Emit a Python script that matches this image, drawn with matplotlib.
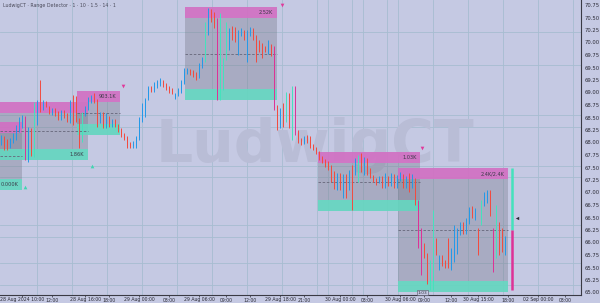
import matplotlib
matplotlib.use("Agg")
import matplotlib.pyplot as plt
from matplotlib.patches import Rectangle
import numpy as np

# OHLC in cents (price * 100), one entry per bar
opens = [
    6801, 6809, 6803, 6793, 6805, 6813, 6829, 6841, 6849, 6789,
    6805, 6775, 6865, 6879, 6869, 6879, 6869, 6861, 6865, 6859,
    6853, 6861, 6855, 6849, 6877, 6865, 6845, 6805, 6857, 6869,
    6885, 6891, 6883, 6845, 6857, 6833, 6849, 6837, 6843, 6833,
    6825, 6815, 6809, 6797, 6793, 6793, 6809, 6845, 6869, 6889,
    6909, 6905, 6913, 6919, 6921, 6915, 6909, 6905, 6889, 6897,
    6901, 6921, 6941, 6945, 6941, 6937, 6933, 6953, 6965, 7025,
    7061, 7055, 7041, 6889, 6909, 6969, 6995, 7029, 7025, 7005,
    7017, 7021, 7009, 7019, 7025, 7011, 7001, 6995, 6989, 6981,
    6993, 6989, 6869, 6835, 6869, 6845, 6895, 6845, 6909, 6819,
    6805, 6799, 6811, 6809, 6793, 6789, 6779, 6769, 6763, 6759,
    6751, 6739, 6715, 6735, 6705, 6733, 6715, 6735, 6739, 6725,
    6775, 6749, 6765, 6745, 6731, 6725, 6723, 6729, 6713, 6729,
    6719, 6733, 6715, 6729, 6733, 6713, 6735, 6721, 6725, 6681,
    6625, 6595, 6575, 6519, 6535, 6605, 6549, 6569, 6561, 6605,
    6549, 6569, 6585, 6621, 6635, 6621, 6641, 6665, 6649, 6621,
    6639, 6679, 6685, 6701, 6625, 6575, 6635, 6621, 6581,
]
highs = [
    6815, 6813, 6807, 6809, 6819, 6835, 6851, 6855, 6853, 6831,
    6829, 6881, 6885, 6925, 6885, 6883, 6873, 6869, 6869, 6863,
    6865, 6865, 6859, 6885, 6895, 6893, 6849, 6861, 6873, 6891,
    6895, 6899, 6887, 6861, 6861, 6859, 6853, 6847, 6847, 6837,
    6829, 6819, 6813, 6801, 6803, 6813, 6851, 6879, 6889, 6913,
    6913, 6921, 6925, 6929, 6925, 6919, 6913, 6909, 6899, 6909,
    6925, 6949, 6949, 6947, 6945, 6941, 6959, 6971, 7041, 7069,
    7067, 7061, 7049, 7059, 6969, 7041, 7029, 7033, 7031, 7025,
    7029, 7025, 7025, 7031, 7029, 7015, 7005, 6999, 6993, 7005,
    6997, 6993, 6875, 6869, 6879, 6901, 6899, 6913, 6913, 6825,
    6809, 6813, 6815, 6813, 6797, 6791, 6783, 6773, 6767, 6763,
    6755, 6743, 6739, 6739, 6737, 6737, 6745, 6755, 6769, 6775,
    6779, 6771, 6769, 6749, 6735, 6729, 6733, 6733, 6739, 6733,
    6739, 6737, 6735, 6741, 6737, 6733, 6739, 6737, 6729, 6685,
    6629, 6599, 6579, 6565, 6665, 6609, 6575, 6575, 6565, 6609,
    6589, 6635, 6629, 6641, 6641, 6649, 6671, 6673, 6669, 6629,
    6685, 6701, 6705, 6705, 6629, 6675, 6641, 6629, 6613,
]
lows = [
    6795, 6785, 6785, 6789, 6799, 6805, 6821, 6829, 6765, 6761,
    6773, 6771, 6835, 6861, 6865, 6871, 6857, 6855, 6853, 6845,
    6845, 6849, 6841, 6839, 6835, 6841, 6789, 6801, 6853, 6865,
    6879, 6879, 6831, 6839, 6829, 6829, 6831, 6831, 6831, 6821,
    6811, 6805, 6789, 6789, 6789, 6789, 6805, 6841, 6851, 6885,
    6901, 6901, 6909, 6913, 6911, 6905, 6899, 6897, 6887, 6893,
    6899, 6917, 6937, 6935, 6931, 6925, 6929, 6949, 6961, 7015,
    7041, 7029, 6885, 6885, 6905, 6965, 6985, 7005, 7001, 6975,
    7013, 7005, 6961, 7013, 7005, 6961, 6981, 6969, 6981, 6977,
    6973, 6865, 6825, 6829, 6831, 6841, 6829, 6805, 6815, 6799,
    6795, 6797, 6799, 6789, 6785, 6777, 6765, 6759, 6751, 6745,
    6721, 6707, 6705, 6705, 6689, 6689, 6705, 6665, 6735, 6721,
    6741, 6735, 6735, 6729, 6721, 6715, 6719, 6709, 6709, 6713,
    6713, 6709, 6709, 6723, 6709, 6709, 6701, 6709, 6675, 6589,
    6535, 6569, 6517, 6505, 6505, 6575, 6545, 6553, 6549, 6549,
    6545, 6561, 6577, 6615, 6617, 6617, 6637, 6649, 6645, 6575,
    6635, 6673, 6679, 6653, 6541, 6569, 6575, 6581, 6575,
]
closes = [
    6809, 6803, 6793, 6805, 6813, 6829, 6841, 6849, 6789, 6805,
    6775, 6865, 6879, 6869, 6879, 6875, 6861, 6865, 6859, 6853,
    6861, 6855, 6849, 6877, 6861, 6845, 6791, 6857, 6869, 6885,
    6891, 6883, 6845, 6857, 6833, 6849, 6837, 6843, 6835, 6825,
    6815, 6809, 6793, 6793, 6797, 6809, 6845, 6869, 6885, 6909,
    6903, 6917, 6921, 6925, 6915, 6909, 6903, 6901, 6897, 6905,
    6921, 6941, 6945, 6939, 6935, 6927, 6953, 6965, 7025, 7061,
    7049, 7035, 6889, 7055, 6961, 7035, 7025, 7013, 7009, 7021,
    7025, 7009, 7019, 7025, 7011, 6975, 6991, 6987, 6985, 6993,
    6979, 6869, 6835, 6861, 6835, 6895, 6845, 6905, 6819, 6805,
    6801, 6809, 6803, 6793, 6789, 6781, 6769, 6763, 6755, 6749,
    6725, 6711, 6735, 6711, 6733, 6693, 6741, 6715, 6761, 6771,
    6749, 6765, 6741, 6735, 6725, 6719, 6729, 6713, 6735, 6719,
    6735, 6715, 6729, 6737, 6713, 6729, 6705, 6729, 6679, 6595,
    6541, 6573, 6521, 6561, 6661, 6579, 6571, 6559, 6555, 6551,
    6585, 6595, 6621, 6633, 6621, 6641, 6665, 6655, 6665, 6579,
    6679, 6695, 6699, 6661, 6549, 6669, 6581, 6589, 6609,
]

# detected ranges (bar span, top/bottom in cents, label)
box_start = [-0.5, -0.5, 25.2, 61.2, 105.5, 132.2]
box_end = [6.8, 28.8, 39.5, 91.8, 139.5, 168.8]
box_top = [6841, 6881, 6903, 7071, 6781, 6749]
box_bottom = [6705, 6765, 6815, 6885, 6663, 6501]
box_labels = ["0.000K", "1.86K", "903.1K", "2.52K", "1.03K", "2.4K/2.4K"]
box_label_side = ["bottom", "bottom", "top", "top", "top", "top"]

sell_bars = [40.5, 93.5, 140.2]
sell_prices = [6913, 7075, 6789]
buy_bars = [7.8, 30.2]
buy_prices = [6711, 6753]

gauge_bar = 170.2
gauge_top, gauge_mid, gauge_bottom = 6749, 6625, 6505
pointer_bar, pointer_price = 171.8, 6649

hgrid_levels = [7021, 6955, 6855, 6831, 6753, 6731, 6635, 6611, 6559, 6515]

xtick_bars = [7, 17, 28, 36, 46, 56, 66, 75, 83, 93,
              101, 113, 122, 133, 141, 150, 159, 169, 179, 188]
xtick_labels = ["28 Aug 2024 10:00", "12:00", "28 Aug 16:00", "18:00", "29 Aug 00:00",
                "03:00", "29 Aug 06:00", "09:00", "12:00", "29 Aug 18:00",
                "21:00", "30 Aug 00:00", "03:00", "30 Aug 06:00", "09:00",
                "12:00", "30 Aug 15:00", "18:00", "02 Sep 00:00", "03:00"]

BG = "#c5c9e3"
GRID = "#a7bdd0"
UP = "#2499e8"
UP_BIG = "#45e2bc"
DOWN = "#f24b3f"
DOWN_BIG = "#dd3296"
PINK = "#d86ec6"
TEAL = "#62dcc2"


def main():
    fig = plt.figure(figsize=(6.0, 3.03), dpi=100, facecolor=BG)
    ax = fig.add_axes([0, 8 / 303, 581 / 600, 295 / 303])
    ax.set_facecolor(BG)
    ax.set_xlim(-0.5, 193.17)
    ax.set_ylim(6495, 7085)

    # grid
    for gx in np.arange(11.83, 130, 35 / 3):
        ax.axvline(gx, color=GRID, lw=0.6, zorder=0)
    for gx in np.arange(108.8, 194, 35 / 3):
        ax.axvline(gx, color=GRID, lw=0.6, zorder=0)
    for gy in hgrid_levels:
        ax.axhline(gy, color=GRID, lw=0.6, zorder=0)

    ax.text(104.5, 6795, "LudwigCT", fontsize=42, fontweight="bold",
            color="#b9bdd6", ha="center", va="center", zorder=0.5)

    # range boxes
    band = 22
    for s, e, t, b, lab, side in zip(box_start, box_end, box_top, box_bottom,
                                     box_labels, box_label_side):
        w = e - s
        ax.add_patch(Rectangle((s, b), w, t - b, facecolor="#6f7080",
                               alpha=0.33, lw=0, zorder=1))
        ax.add_patch(Rectangle((s, t - band), w, band, facecolor=PINK,
                               alpha=0.85, lw=0, zorder=1.2))
        ax.add_patch(Rectangle((s, b), w, band, facecolor=TEAL,
                               alpha=0.85, lw=0, zorder=1.2))
        mid = (t + b) / 2
        ax.plot([s, e], [mid, mid], color="#66667a", lw=0.6,
                dashes=(3, 2), zorder=1.5)
        ly = t - band / 2 if side == "top" else b + band / 2
        ax.text(e - 1.2, ly, lab, fontsize=3.6, color="#3a3a48",
                ha="right", va="center", zorder=4)

    # candles
    o = np.array(opens)
    h = np.array(highs)
    l = np.array(lows)
    c = np.array(closes)
    x = np.arange(len(o))
    colors = []
    for oo, cc in zip(o, c):
        if cc >= oo:
            colors.append(UP_BIG if cc - oo >= 40 else UP)
        else:
            colors.append(DOWN_BIG if oo - cc >= 60 else DOWN)
    ax.vlines(x, l, h, colors=colors, lw=0.7, zorder=2)
    bottoms = np.minimum(o, c)
    heights = np.maximum(np.abs(c - o), 1.5)
    ax.bar(x, heights, bottom=bottoms, width=0.65, color=colors, lw=0, zorder=2.2)

    # signals
    ax.scatter(sell_bars, sell_prices, marker="v", s=7, color="#e0399b", lw=0, zorder=3)
    ax.scatter(buy_bars, buy_prices, marker="^", s=7, color="#3fd6b0", lw=0, zorder=3)

    # range gauge at the right
    ax.plot([gauge_bar, gauge_bar], [gauge_mid, gauge_top], color=UP_BIG,
            lw=1.8, solid_capstyle="butt", zorder=3)
    ax.plot([gauge_bar, gauge_bar], [gauge_bottom, gauge_mid], color=DOWN_BIG,
            lw=1.8, solid_capstyle="butt", zorder=3)
    ax.scatter([pointer_bar], [pointer_price], marker="<", s=6, color="#2a2a35",
               lw=0, zorder=3)

    ax.text(0.005, 0.98, "LudwigCT · Range Detector · 1 · 10 · 1.5 · 14 · 1",
            transform=ax.transAxes, fontsize=3.4, color="#4a4a5a",
            ha="left", va="center")
    ax.text(140.3, 6500, "1:03", fontsize=3.2, color="#333340", ha="center",
            va="center", zorder=5,
            bbox=dict(boxstyle="square,pad=0.2", fc=BG, ec="#555566", lw=0.4))

    # axes
    for side in ["top", "left"]:
        ax.spines[side].set_visible(False)
    for side in ["right", "bottom"]:
        ax.spines[side].set_color("#3a3a44")
        ax.spines[side].set_linewidth(0.8)
    ax.yaxis.tick_right()
    yt = np.arange(6500, 7076, 25)
    ax.set_yticks(yt)
    ax.set_yticklabels(["%.2f" % (v / 100) for v in yt])
    ax.set_xticks(xtick_bars)
    ax.set_xticklabels(xtick_labels)
    ax.tick_params(axis="y", length=0, pad=2.5, labelsize=3.8, colors="#2a2a35")
    ax.tick_params(axis="x", length=1.2, width=0.5, pad=0.6, labelsize=3.3,
                   colors="#2a2a35")

    fig.savefig("out.png", dpi=100, facecolor=BG)


if __name__ == "__main__":
    main()
